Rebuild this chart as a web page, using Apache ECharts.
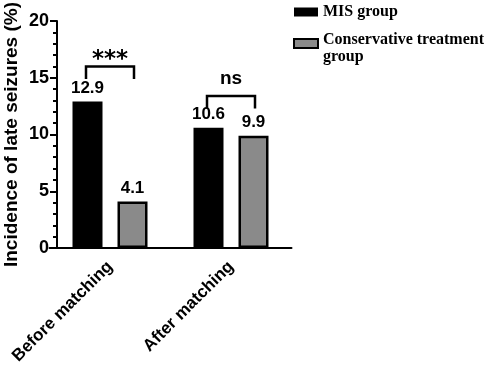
<!DOCTYPE html>
<html>
<head>
<meta charset="utf-8">
<script src="https://cdn.jsdelivr.net/npm/echarts@6/dist/echarts.min.js"></script>
<style>
  html, body { margin: 0; padding: 0; background: #fff; }
  #chart { width: 486px; height: 371px; }
</style>
</head>
<body>
<div id="chart"></div>
<script>
// data
const categories = ['Before matching', 'After matching'];
const misValues = [12.9, 10.6];
const conservativeValues = [4.1, 9.9];
// significance brackets: bracket height (y units) and label per category
const sigLevels = [16.0, 13.4];
const sigLabels = ['***', 'ns'];

const sans = 'Liberation Sans, Arial, sans-serif';
const serif = 'Liberation Serif, Times New Roman, serif';

const chart = echarts.init(document.getElementById('chart'));

const barLabel = {
  show: true,
  position: 'top',
  distance: 5,
  color: '#000',
  fontFamily: sans,
  fontWeight: 'bold',
  fontSize: 17
};

const legendFont = {
  fontFamily: serif,
  fontWeight: 'bold',
  fontSize: 16,
  lineHeight: 17,
  color: '#000'
};

const option = {
  animation: false,
  backgroundColor: '#fff',
  grid: { left: 49.5, top: 16, width: 242, height: 232 },
  legend: {
    orient: 'vertical',
    left: 293,
    top: 3.5,
    padding: 0,
    itemWidth: 24,
    itemHeight: 9,
    itemGap: 1.5,
    icon: 'rect',
    data: ['MIS group', 'Conservative treatment group'],
    // short blank first line keeps the icon near "Conservative treatment"
    formatter: name => name === 'MIS group'
      ? '{t|' + name + '}'
      : '{s| }\n{t|Conservative treatment}\n{t|group}',
    textStyle: Object.assign({}, legendFont, {
      rich: {
        s: { fontSize: 8, lineHeight: 9 },
        t: legendFont
      }
    })
  },
  xAxis: {
    type: 'category',
    data: categories,
    axisLine: { lineStyle: { color: '#000', width: 2 } },
    axisTick: { alignWithLabel: true, length: 8, lineStyle: { color: '#000', width: 2 } },
    axisLabel: {
      rotate: 45,
      margin: 16,
      color: '#000',
      fontFamily: sans,
      fontWeight: 'bold',
      fontSize: 17
    }
  },
  yAxis: {
    type: 'value',
    min: 0,
    max: 20,
    interval: 5,
    offset: -7.5,
    name: 'Incidence of late seizures (%)',
    nameLocation: 'middle',
    nameGap: 36,
    nameTextStyle: {
      color: '#000',
      fontFamily: sans,
      fontWeight: 'bold',
      fontSize: 19
    },
    axisLine: { show: true, lineStyle: { color: '#000', width: 2 } },
    axisTick: { show: true, length: 7, lineStyle: { color: '#000', width: 2 } },
    minorTick: { show: true, splitNumber: 5, length: 4, lineStyle: { color: '#000', width: 2 } },
    splitLine: { show: false },
    axisLabel: {
      margin: 8,
      color: '#000',
      fontFamily: sans,
      fontWeight: 'bold',
      fontSize: 18
    }
  },
  series: [
    {
      name: 'MIS group',
      type: 'bar',
      barWidth: 30,
      barGap: '50%',
      itemStyle: { color: '#000' },
      label: barLabel,
      data: misValues
    },
    {
      name: 'Conservative treatment group',
      type: 'bar',
      barWidth: 30,
      itemStyle: { color: '#8a8a8a', borderColor: '#000', borderWidth: 2.5 },
      label: barLabel,
      data: conservativeValues
    },
    {
      // significance brackets
      type: 'custom',
      silent: true,
      data: sigLevels.map((v, i) => [i, v, sigLabels[i]]),
      renderItem: (params, api) => {
        const p = api.coord([api.value(0), api.value(1)]);
        const drop = api.size([0, 1.1])[1];
        const half = 24;
        const label = sigLabels[params.dataIndex];
        const stars = label === '***';
        return {
          type: 'group',
          children: [
            {
              type: 'polyline',
              shape: {
                points: [
                  [p[0] - half, p[1] + drop],
                  [p[0] - half, p[1]],
                  [p[0] + half, p[1]],
                  [p[0] + half, p[1] + drop]
                ]
              },
              style: { stroke: '#000', lineWidth: 2.5, fill: null }
            },
            {
              type: 'text',
              x: p[0],
              y: stars ? p[1] + 5 : p[1] - 8,
              style: {
                text: label,
                align: 'center',
                verticalAlign: 'bottom',
                fill: '#000',
                fontFamily: stars ? 'DejaVu Sans, sans-serif' : sans,
                fontWeight: 'bold',
                fontSize: stars ? 23 : 19
              }
            }
          ]
        };
      }
    }
  ]
};

chart.setOption(option);
</script>
</body>
</html>
